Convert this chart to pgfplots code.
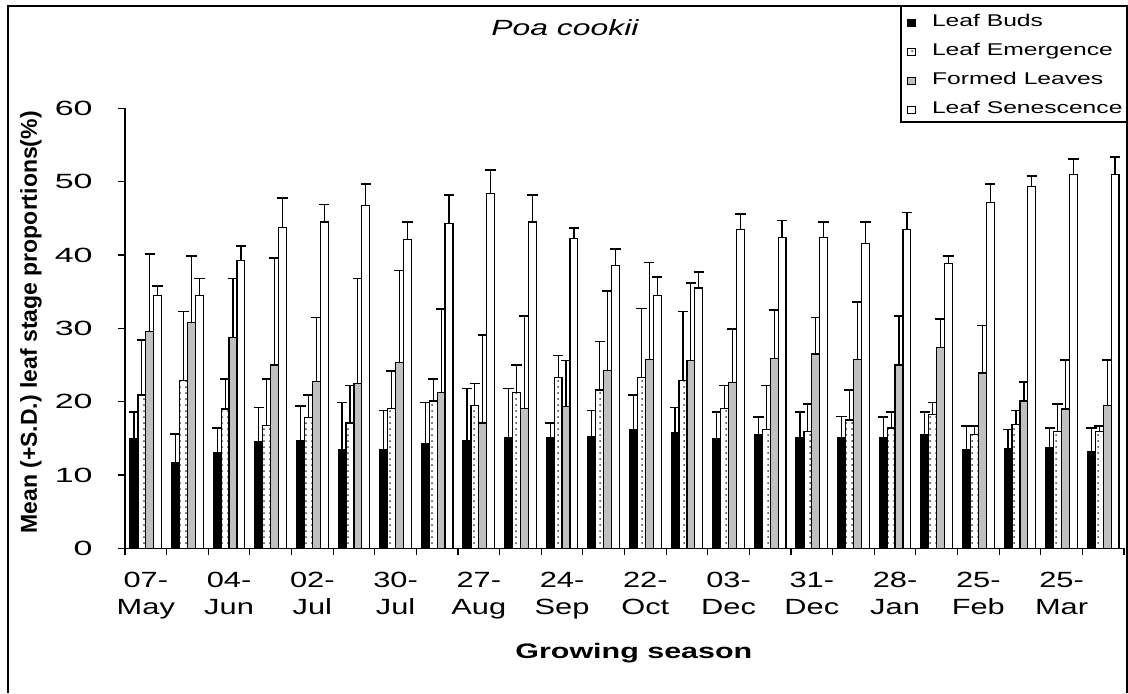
\documentclass[border=0pt]{standalone}
\usepackage{fontspec}
\setmainfont{Liberation Sans}[FakeStretch=1.45]
\newfontfamily\xtickfont{Liberation Sans}[FakeStretch=1.4]
\newfontfamily\ytickfont{Liberation Sans}[FakeStretch=1.65]
\newfontfamily\ylabfont{Liberation Sans}
\usepackage{pgfplots}
\usepackage{pgfplotstable}
\pgfplotsset{compat=1.18}
\usetikzlibrary{patterns}
\definecolor{silverc}{HTML}{C0C0C0}

% Leaf Buds
\pgfplotstableread{
x y e
0 14.9 3.7
1 11.7 3.9
2 13.0 3.4
3 14.5 4.7
4 14.7 4.7
5 13.4 6.5
6 13.4 5.4
7 14.3 5.6
8 14.7 7.1
9 15.1 6.7
10 15.1 2.0
11 15.3 3.5
12 16.2 4.7
13 15.8 3.4
14 14.9 3.7
15 15.5 2.4
16 15.1 3.5
17 15.1 2.9
18 15.1 2.8
19 15.5 3.1
20 13.4 3.3
21 13.6 2.6
22 13.8 2.6
23 13.2 3.2
}\budtab
% Leaf Emergence
\pgfplotstableread{
x y e
0 20.9 7.5
1 22.9 9.4
2 19.0 4.1
3 16.7 6.4
4 17.8 3.1
5 17.1 5.1
6 19.1 5.1
7 20.1 3.0
8 19.5 3.0
9 21.2 3.8
10 23.3 3.0
11 21.6 6.6
12 23.3 9.4
13 22.9 9.4
14 19.1 3.1
15 16.2 6.0
16 15.9 3.8
17 17.5 4.1
18 16.4 2.2
19 18.3 1.6
20 15.5 1.2
21 16.9 1.9
22 15.9 3.8
23 15.9 0.8
}\emtab
% Formed Leaves
\pgfplotstableread{
x y e
0 29.6 10.5
1 30.8 9.1
2 28.7 8.1
3 25.0 14.6
4 22.7 8.8
5 22.5 14.3
6 25.3 12.6
7 21.2 11.4
8 17.1 12.0
9 19.1 12.6
10 19.3 6.3
11 24.2 10.9
12 25.7 13.3
13 25.6 10.6
14 22.6 7.3
15 25.9 6.6
16 26.5 5.0
17 25.7 7.9
18 25.0 6.7
19 27.4 3.9
20 23.9 6.5
21 20.1 2.6
22 19.0 6.7
23 19.5 6.2
}\formtab
% Leaf Senescence
\pgfplotstableread{
x y e
0 34.5 1.3
1 34.5 2.3
2 39.2 2.0
3 43.7 4.1
4 44.5 2.4
5 46.7 3.0
6 42.1 2.4
7 44.3 3.9
8 48.4 3.2
9 44.5 3.7
10 42.2 1.5
11 38.6 2.2
12 34.5 2.5
13 35.5 2.2
14 43.5 2.1
15 42.4 2.3
16 42.4 2.1
17 41.6 2.9
18 43.5 2.3
19 38.8 1.1
20 47.2 2.5
21 49.3 1.5
22 51.0 2.1
23 51.0 2.4
}\sentab

\begin{document}
\begin{tikzpicture}
\useasboundingbox (0pt,0pt) rectangle (564pt,346.5pt);
\begin{axis}[
  scale only axis, width=499.5pt, height=220pt,
  at={(62.5pt,72.35pt)}, anchor=south west,
  xmin=-0.5, xmax=23.5, ymin=0, ymax=60,
  axis x line*=bottom, axis y line*=left,
  axis line style={line width=0.6pt, -},
  tick align=outside, major tick length=3.5pt,
  tick style={line width=0.6pt, black},
  xtick={-0.5,0.5,...,23.5}, xticklabels={},
  extra x ticks={0,2,...,22},
  extra x tick labels={{07-\\May},{04-\\Jun},{02-\\Jul},{30-\\Jul},{27-\\Aug},{24-\\Sep},{22-\\Oct},{03-\\Dec},{31-\\Dec},{28-\\Jan},{25-\\Feb},{25-\\Mar}},
  extra x tick style={major tick length=0pt, xticklabel style={align=center, yshift=-8.5pt, font=\xtickfont\fontsize{11}{13.35}\selectfont}},
  ytick={0,10,...,60},
  yticklabel style={anchor=east, inner sep=0pt, xshift=-12.5pt, font=\ytickfont\fontsize{10.3}{12}\selectfont},
  /pgf/number format/assume math mode=true,
  ybar=0pt, bar width=0.19,
  every axis title shift=0pt,
  title={Poa cookii},
  title style={at={(axis description cs:0.4404,1.1666)}, anchor=base, inner sep=0pt, font=\fontsize{11}{13}\selectfont\itshape},
  xlabel={Growing season},
  xlabel style={at={(axis description cs:0.3904,-0.25)}, anchor=base west, inner sep=0pt, font=\fontsize{10.5}{12}\selectfont\bfseries},
  ylabel={Mean (+S.D.) leaf stage proportions(\%)},
  ylabel style={at={(axis description cs:-0.0881,0.5132)}, anchor=base, inner sep=0pt, font=\ylabfont\fontsize{11.5}{13}\selectfont\bfseries},
  legend style={draw=none, fill=none, at={(axis description cs:0.7828,1.215)}, anchor=north west,
     inner sep=0pt, outer sep=0pt, row sep=6pt, font=\fontsize{8.5}{10}\selectfont,
     nodes={inner sep=0pt, text height=6.5pt, text depth=2pt},
     /tikz/every odd column/.append style={column sep=8pt}},
  legend cell align=left,
  legend image code/.code={\draw[#1, line width=0.5pt] (0pt,-1.9pt) rectangle (4pt,1.5pt);},
  error bars/y dir=plus, error bars/y explicit,
  error bars/error mark=|,
  error bars/error bar style={line width=0.6pt, black},
  error bars/error mark options={line width=0.8pt, mark size=2.6pt, black},
]
\addplot[draw=black, line width=0.6pt, fill=black] table[x=x, y=y, y error=e]{\budtab};
\addlegendentry{Leaf Buds}
\addplot[draw=black, line width=0.6pt, fill=white, postaction={pattern=dots, pattern color=black!75}] table[x=x, y=y, y error=e]{\emtab};
\addlegendentry{Leaf Emergence}
\addplot[draw=black, line width=0.6pt, fill=silverc] table[x=x, y=y, y error=e]{\formtab};
\addlegendentry{Formed Leaves}
\addplot[draw=black, line width=0.6pt, fill=white] table[x=x, y=y, y error=e]{\sentab};
\addlegendentry{Leaf Senescence}
\end{axis}
\draw[line width=1pt] (4pt,0pt) -- (4pt,343.5pt) -- (563.25pt,343.5pt) -- (563.25pt,0pt);
\draw[line width=0.6pt] (450.5pt,285.5pt) rectangle (563.25pt,343.5pt);
\end{tikzpicture}
\end{document}
